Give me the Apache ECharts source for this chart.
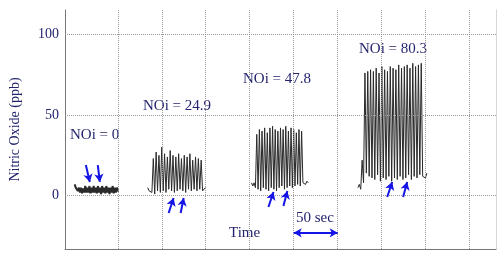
<!DOCTYPE html>
<html>
<head>
<meta charset="utf-8">
<script src="https://cdn.jsdelivr.net/npm/echarts@6/dist/echarts.min.js"></script>
<style>
html, body { margin: 0; padding: 0; background: #fff; }
#main { width: 500px; height: 256px; }
</style>
</head>
<body>
<div id="main"></div>
<script>
// NO trace per injection, sampled at a fixed step (seconds) from its start time
var burstStart = [-49, 34, 152, 273];
var burstStep = [1.2, 1.6, 1.5, 1.6];

var noi0 = [7, 5, 6, 3, 5, 2, 5, 1.5, 4.5, 2, 6, 2, 5, 2, 6, 1.5, 5, 2, 6, 2, 5, 1.5, 6, 2, 5, 1, 6, 2, 5, 1.5, 6, 2, 5, 1, 5, 2, 6, 1.5, 5, 2, 5, 3, 3];
var noi249 = [5, 3, 4, 2, 23, 1, 27, 3, 25, 2, 30, 3, 26, 2, 24, 4, 28, 3, 25, 2, 24, 3, 26, 4, 23, 3, 25, 2, 24, 4, 26, 3, 22, 4, 24, 3, 23, 4, 22, 3, 4, 5];
var noi478 = [8, 6, 8, 5, 38, 4, 41, 3, 40, 5, 42, 4, 39, 3, 42, 5, 43, 4, 41, 3, 40, 5, 42, 6, 41, 4, 43, 5, 40, 6, 42, 5, 41, 6, 39, 7, 41, 6, 40, 8, 9, 7, 9, 8];
var noi803 = [5, 7, 4, 22, 8,
    76, 14, 77, 12, 78, 11, 77, 10, 79, 13, 76, 9, 80, 11, 78, 10, 77, 12, 80, 9, 79, 11,
    78, 10, 81, 12, 79, 10, 80, 11, 81, 13, 79, 10, 82, 12, 80, 11, 81, 13, 82, 12, 12, 11, 14];

var traceNames = ['NOi = 0', 'NOi = 24.9', 'NOi = 47.8', 'NOi = 80.3'];
var traces = [noi0, noi249, noi478, noi803];

var yTicks = [0, 50, 100];
var gridTimes = [0, 50, 100, 150, 200, 250, 300, 350, 400];

// injection arrows [t1, y1, t2, y2]
var arrows = [
    [-36.3, 19, -31.8, 8.5], [-22.7, 19, -20.4, 8.5],
    [57.8, -10.7, 63.5, -1.4], [71.5, -10.7, 74.9, -1.4],
    [171.3, -7, 177, 2.3], [188.3, -6.3, 192.8, 2.9],
    [306.3, -0.8, 312, 8.5], [324.4, -0.8, 329, 8.5]
];
var scaleBar = [200, 250, -23];

var myChart = echarts.init(document.getElementById('main'));

var series = traces.map(function (vals, k) {
    return {
        name: traceNames[k],
        type: 'line',
        showSymbol: false,
        animation: false,
        z: 3,
        lineStyle: { color: '#2a2a2a', width: k === 0 ? 2 : 1 },
        data: vals.map(function (v, i) {
            return [+(burstStart[k] + i * burstStep[k]).toFixed(2), v];
        })
    };
});

// dotted grid
series.push({
    type: 'line',
    data: [],
    silent: true,
    z: 1,
    markLine: {
        silent: true,
        symbol: 'none',
        animation: false,
        label: { show: false },
        lineStyle: { color: '#9a9a9a', type: 'dotted', width: 1 },
        data: gridTimes.map(function (t) { return { xAxis: t }; })
            .concat(yTicks.map(function (v) { return { yAxis: v }; }))
    }
});

// arrows
var arrowLines = arrows.map(function (a) {
    return [{ coord: [a[0], a[1]] }, { coord: [a[2], a[3]] }];
});
arrowLines.push([
    { coord: [scaleBar[0], scaleBar[2]], symbol: 'arrow' },
    { coord: [scaleBar[1], scaleBar[2]] }
]);
series.push({
    type: 'line',
    data: [],
    silent: true,
    z: 5,
    markLine: {
        silent: true,
        animation: false,
        symbol: ['none', 'arrow'],
        symbolSize: [7, 8],
        label: { show: false },
        lineStyle: { color: '#1414e6', type: 'solid', width: 2 },
        data: arrowLines
    }
});

var labelFont = '15px "Liberation Serif", "DejaVu Serif", serif';
var navy = '#24246e';

option = {
    animation: false,
    backgroundColor: '#fff',
    grid: { left: 64, right: 4, top: 10, bottom: 7 },
    xAxis: {
        type: 'value',
        min: -60,
        max: 430,
        axisLine: { show: true, onZero: false, lineStyle: { color: '#777', width: 1 } },
        axisTick: { show: false },
        axisLabel: { show: false },
        splitLine: { show: false }
    },
    yAxis: [{
        type: 'value',
        min: -33,
        max: 115,
        name: 'Nitric Oxide (ppb)',
        nameLocation: 'middle',
        nameGap: 43,
        nameTextStyle: { color: navy, fontSize: 14, fontFamily: 'Liberation Serif' },
        axisLine: { show: true, onZero: false, lineStyle: { color: '#777', width: 1 } },
        axisTick: { show: false },
        axisLabel: {
            customValues: yTicks,
            color: navy,
            fontSize: 14,
            fontFamily: 'Liberation Serif',
            margin: 6
        },
        splitLine: { show: false }
    }, {
        type: 'value',
        position: 'right',
        min: -33,
        max: 115,
        axisLine: { show: true, onZero: false, lineStyle: { color: '#d6d6d6', width: 1 } },
        axisTick: { show: false },
        axisLabel: { show: false },
        splitLine: { show: false }
    }],
    graphic: [
        { type: 'text', left: 70, top: 128, style: { text: traceNames[0], font: labelFont, fill: navy } },
        { type: 'text', left: 143, top: 99, style: { text: traceNames[1], font: labelFont, fill: navy } },
        { type: 'text', left: 243, top: 72, style: { text: traceNames[2], font: labelFont, fill: navy } },
        { type: 'text', left: 359, top: 42, style: { text: traceNames[3], font: labelFont, fill: navy } },
        { type: 'text', left: 229, top: 226, style: { text: 'Time', font: labelFont, fill: navy } },
        { type: 'text', left: 296, top: 211, style: { text: '50 sec', font: labelFont, fill: navy } }
    ],
    series: series
};

myChart.setOption(option);
</script>
</body>
</html>
